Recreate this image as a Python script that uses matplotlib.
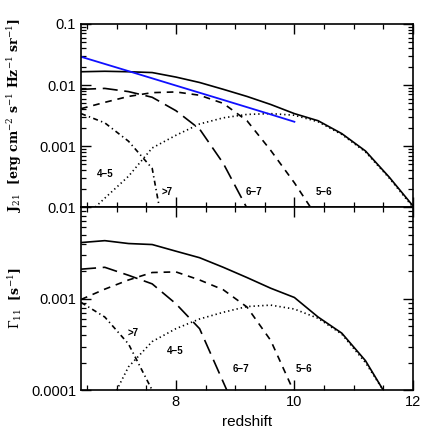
import numpy as np
import matplotlib
matplotlib.use("Agg")
import matplotlib.pyplot as plt
from matplotlib.ticker import MultipleLocator, LogLocator, NullFormatter

plt.rcParams['font.family'] = ['Liberation Sans', 'DejaVu Sans']
plt.rcParams['mathtext.fontset'] = 'dejavuserif'

# redshift grid
z = [6.4, 6.8, 7.2, 7.6, 8.0, 8.4, 8.8, 9.2, 9.6, 10.0, 10.4, 10.8, 11.2, 11.6, 12.0]

# --- top panel: J21 ---
j_tot = [0.0165, 0.0168, 0.0165, 0.016, 0.0135, 0.011, 0.0085, 0.0065, 0.0048,
         0.0034, 0.0026, 0.0016, 0.00083, 0.00031, 0.000105]
z_obs = [6.4, 7.2, 8.0, 8.8, 9.6, 10.0]
j_obs = [0.029, 0.0169, 0.0098, 0.0057, 0.0033, 0.0025]
z_67_j = [6.4, 6.8, 7.2, 7.6, 8.0, 8.4, 8.8, 9.19]
j_67 = [0.0085, 0.0088, 0.0078, 0.0063, 0.0038, 0.0019, 0.00052, 0.0001]
z_56_j = [6.4, 6.8, 7.2, 7.6, 8.0, 8.4, 8.8, 9.2, 9.6, 10.0, 10.27]
j_56 = [0.0041, 0.0052, 0.0065, 0.0075, 0.0077, 0.0068, 0.0050, 0.0026,
        0.00085, 0.00025, 0.0001]
z_7_j = [6.4, 6.8, 7.2, 7.6, 7.72]
j_7 = [0.0034, 0.0024, 0.0012, 0.00043, 0.0001]
z_45_j = [6.64, 6.8, 7.2, 7.6, 8.0, 8.4, 8.8, 9.2, 9.6, 10.0, 10.4, 10.8, 11.2,
          11.6, 12.0]
j_45 = [0.0001, 0.00014, 0.00032, 0.00093, 0.0015, 0.0023, 0.0029, 0.0033,
        0.0034, 0.0032, 0.0025, 0.00155, 0.0008, 0.0003, 0.0001]

# --- bottom panel: Gamma11 ---
z_tot_g = [6.4, 6.8, 7.2, 7.6, 8.0, 8.4, 8.8, 9.2, 9.6, 10.0, 10.4, 10.8, 11.2, 11.5]
g_tot = [0.0041, 0.0043, 0.0040, 0.0039, 0.0033, 0.0028, 0.0022, 0.0017, 0.0013,
         0.00103, 0.00063, 0.00042, 0.00021, 0.0001]
z_67_g = [6.4, 6.8, 7.2, 7.6, 8.0, 8.4, 8.86]
g_67 = [0.0021, 0.0022, 0.0018, 0.00145, 0.00088, 0.00047, 0.0001]
z_56_g = [6.4, 6.8, 7.2, 7.6, 8.0, 8.4, 8.8, 9.2, 9.6, 9.98]
g_56 = [0.00098, 0.00127, 0.0016, 0.00193, 0.00196, 0.0016, 0.00125, 0.00081,
        0.00035, 0.0001]
z_7_g = [6.4, 6.8, 7.2, 7.6]
g_7 = [0.00091, 0.00063, 0.00032, 0.0001]
z_45_g = [7.0, 7.2, 7.6, 8.0, 8.4, 8.8, 9.2, 9.6, 10.0, 10.4, 10.8, 11.2, 11.5]
g_45 = [0.0001, 0.00018, 0.00034, 0.00047, 0.0006, 0.00071, 0.00082, 0.00085,
        0.00077, 0.00061, 0.00041, 0.0002, 0.0001]

labels = ['4\u22125', '>7', '6\u22127', '5\u22126']
lab_top_z = [6.81, 7.86, 9.32, 10.5]
lab_top_y = [3.5e-4, 1.8e-4, 1.8e-4, 1.8e-4]
lab_bot_z = [7.99, 7.28, 9.09, 10.16]
lab_bot_y = [2.7e-4, 4.2e-4, 1.7e-4, 1.7e-4]

fig = plt.figure(figsize=(4.36, 4.36), dpi=100)
ax1 = fig.add_axes([0.186, 0.525, 0.761, 0.42])
ax2 = fig.add_axes([0.186, 0.105, 0.761, 0.42])

lw = 1.2
long_d = (9, 4)
short_d = (4, 3.5)
dashdot = (3, 2, 0.8, 2)
dots = (0.8, 1.8)

def draw(ax, tot, zt, l67, z67, l56, z56, l7, z7, l45, z45):
    ax.plot(zt, tot, color='k', lw=lw)
    ax.plot(z67, l67, color='k', lw=lw, dashes=long_d)
    ax.plot(z56, l56, color='k', lw=lw, dashes=short_d)
    ax.plot(z7, l7, color='k', lw=lw, dashes=dashdot)
    ax.plot(z45, l45, color='k', lw=lw, dashes=dots)

draw(ax1, j_tot, z, j_67, z_67_j, j_56, z_56_j, j_7, z_7_j, j_45, z_45_j)
ax1.plot(z_obs, j_obs, color='#1010ff', lw=1.3)
draw(ax2, g_tot, z_tot_g, g_67, z_67_g, g_56, z_56_g, g_7, z_7_g, g_45, z_45_g)

for t, x, y in zip(labels, lab_top_z, lab_top_y):
    ax1.text(x, y, t, fontsize=7, fontweight='bold', ha='center', va='center')
for t, x, y in zip(labels, lab_bot_z, lab_bot_y):
    ax2.text(x, y, t, fontsize=7, fontweight='bold', ha='center', va='center')

for ax in (ax1, ax2):
    ax.set_yscale('log')
    ax.set_xlim(6.4, 12)
    ax.xaxis.set_major_locator(MultipleLocator(2))
    ax.xaxis.set_minor_locator(MultipleLocator(0.5))
    ax.yaxis.set_minor_locator(LogLocator(base=10, subs=np.arange(2, 10)))
    ax.yaxis.set_minor_formatter(NullFormatter())
    ax.tick_params(which='both', direction='in', top=True, right=True, labelsize=10.5)
    ax.tick_params(which='major', length=7, width=1)
    ax.tick_params(which='minor', length=3.5, width=0.9)
    for s in ax.spines.values():
        s.set_linewidth(1.2)

ax1.set_ylim(1e-4, 1e-1)
ax1.set_yticks([1e-4, 1e-3, 1e-2, 1e-1], ['0.01', '0.001', '0.01', '0.1'])
ax1.tick_params(axis='x', labelbottom=False)
ax1.set_ylabel(r'J$_{21}$  [erg cm$^{-2}$ s$^{-1}$ Hz$^{-1}$ sr$^{-1}$]',
               family='DejaVu Serif', fontsize=9, fontweight='bold')

ax2.set_ylim(1e-4, 1e-2)
ax2.set_yticks([1e-4, 1e-3, 1e-2], ['0.0001', '0.001', ''])
ax2.set_xticks([8, 10, 12], ['8', '10', '12'])
ax2.set_xlabel('redshift', fontsize=11)
ax2.set_ylabel(r'$\Gamma_{11}$  [s$^{-1}$]', family='DejaVu Serif',
               fontsize=9, fontweight='bold')
ax1.yaxis.set_label_coords(-0.172, 0.5)
ax2.yaxis.set_label_coords(-0.172, 0.5)

fig.savefig('out.png', dpi=100)
